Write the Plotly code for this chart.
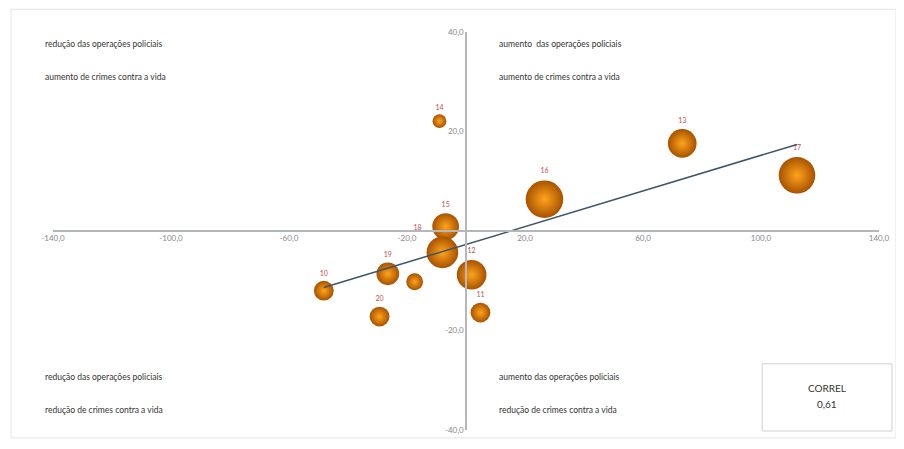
import numpy as np
import plotly.graph_objects as go

# data (x: variação operações policiais, y: variação crimes contra a vida)
labels = ["14", "13", "17", "16", "15", "18", "12", "11", "19", "", "20", "10"]
x_vals = [-9.0, 73.3, 112.2, 26.6, -6.9, -8.0, 1.9, 4.9, -26.5, -17.4, -29.3, -48.2]
y_vals = [22.1, 17.6, 11.2, 6.4, 0.9, -4.3, -8.8, -16.4, -8.6, -10.2, -17.2, -12.0]
bubble = [44, 189, 307, 324, 164, 230, 202, 90, 119, 65, 90, 90]

x_ticks = [-140, -100, -60, -20, 20, 60, 100, 140]
x_ticktext = ["-140,0", "-100,0", "-60,0", "-20,0", "20,0", "60,0", "100,0", "140,0"]
y_ticks = [-40, -20, 20, 40]
y_ticktext = ["-40,0", "-20,0", "20,0", "40,0"]

quad_text = {
    "tl": ["redução das operações policiais", "aumento de crimes contra a vida"],
    "tr": ["aumento  das operações policiais", "aumento de crimes contra a vida"],
    "bl": ["redução das operações policiais", "redução de crimes contra a vida"],
    "br": ["aumento das operações policiais", "redução de crimes contra a vida"],
}
correl_label = "CORREL"
correl_value = "0,61"

# trendline (linear regression over data)
xa = np.array(x_vals)
ya = np.array(y_vals)
slope, intercept = np.polyfit(xa, ya, 1)
tx = np.array([xa.min(), xa.max()])
ty = slope * tx + intercept

text_pos = ["top center" if lab != "18" else "top left" for lab in labels]

fig = go.Figure()
fig.add_trace(go.Scatter(
    x=x_vals, y=y_vals, mode="markers+text", text=labels,
    textposition=text_pos,
    textfont=dict(size=7, color="#c0504d", family="Lato"),
    marker=dict(size=bubble, sizemode="area", sizeref=0.46,
                color="#a85200",
                gradient=dict(type="radial", color="#ffa41c"),
                line=dict(width=0), opacity=1),
    showlegend=False, hoverinfo="skip",
))
fig.add_trace(go.Scatter(
    x=tx, y=ty, mode="lines",
    line=dict(color="#3f5468", width=1.5),
    showlegend=False, hoverinfo="skip",
))

OFF = 8  # page body margin
W, H = 904 - 2 * OFF, 449 - 2 * OFF
ml, mr, mt, mb = 53 - OFF, W - (880 - OFF), 32 - OFF, H - (435 - OFF)

def px_to_paper(px, py):
    px -= OFF
    py -= OFF
    pw = W - ml - mr
    ph = H - mt - mb
    return (px - ml) / pw, 1 - (py - mt) / ph

annots = []
for key, (px0, pys) in {"tl": (43, (44, 78)), "tr": (498, (44, 78)),
                        "bl": (43, (381, 415)), "br": (498, (381, 415))}.items():
    for txt, py in zip(quad_text[key], pys):
        ax, ay = px_to_paper(px0, py)
        annots.append(dict(x=ax, y=ay, xref="paper", yref="paper", text=txt,
                           showarrow=False, xanchor="left", yanchor="middle",
                           font=dict(size=8.5, color="#333333", family="Lato")))

cx, cy1 = px_to_paper(828, 392)
_, cy2 = px_to_paper(828, 409)
annots.append(dict(x=cx, y=cy1, xref="paper", yref="paper", text=correl_label,
                   showarrow=False, xanchor="center", yanchor="middle",
                   font=dict(size=10, color="#333333", family="Lato")))
annots.append(dict(x=cx, y=cy2, xref="paper", yref="paper", text=correl_value,
                   showarrow=False, xanchor="center", yanchor="middle",
                   font=dict(size=10, color="#333333", family="Lato")))

bx0, by0 = px_to_paper(763, 368)
bx1, by1 = px_to_paper(893, 436)
fx0, fy0 = px_to_paper(11, 9)
fx1, fy1 = px_to_paper(897, 443)

shapes = [
    dict(type="rect", xref="paper", yref="paper", x0=bx0, y0=by0, x1=bx1, y1=by1,
         line=dict(color="#d0d0d0", width=1), fillcolor="rgba(0,0,0,0)"),
    dict(type="rect", xref="paper", yref="paper", x0=fx0, y0=fy0, x1=fx1, y1=fy1,
         line=dict(color="#e4e4e4", width=1), fillcolor="rgba(0,0,0,0)", layer="below"),
]

fig.update_layout(
    width=W, height=H,
    margin=dict(l=ml, r=mr, t=mt, b=mb),
    paper_bgcolor="white", plot_bgcolor="white",
    annotations=annots, shapes=shapes,
    xaxis=dict(range=[-140, 140], anchor="free", position=0.5,
               showline=True, linecolor="#b4b8bc", linewidth=1.5,
               showgrid=False, zeroline=False,
               tickvals=x_ticks, ticktext=x_ticktext, ticks="",
               tickfont=dict(size=8, color="#888888", family="Lato")),
    yaxis=dict(range=[-40, 40], anchor="free", position=0.5,
               showline=True, linecolor="#b4b8bc", linewidth=1.5,
               showgrid=False, zeroline=False,
               tickvals=y_ticks, ticktext=y_ticktext, ticks="",
               tickfont=dict(size=8, color="#888888", family="Lato")),
)

fig.write_html("out.html")
